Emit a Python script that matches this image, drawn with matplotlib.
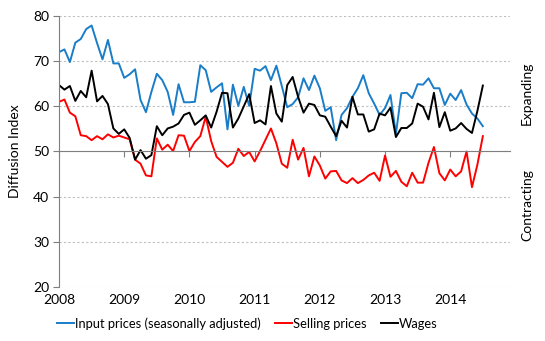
import numpy as np
import matplotlib.pyplot as plt

# Monthly diffusion indices, Jan 2008 - Jul 2014
input_prices = [
    72.0, 72.6, 69.8, 74.1, 74.9, 77.1, 77.9, 74.0, 70.4, 74.7, 69.5, 69.5,
    66.3, 67.1, 68.2, 61.4, 58.7, 63.2, 67.2, 65.8, 63.2, 58.1, 64.9, 60.9,
    60.9, 61.0, 69.1, 68.0, 63.2, 64.2, 65.1, 54.9, 64.8, 60.1, 64.3, 60.1,
    68.3, 67.9, 68.9, 65.8, 69.0, 64.5, 59.8, 60.5, 62.0, 66.2, 63.6, 66.8,
    64.0, 59.0, 59.8, 52.5, 58.1, 59.6, 62.1, 64.0, 66.9, 62.9, 60.6, 58.1,
    59.6, 62.5, 53.9, 62.9, 63.0, 61.8, 64.9, 64.8, 66.2, 64.0, 64.0, 60.3,
    62.8, 61.4, 63.6, 60.4, 58.4, 57.3, 55.6,
]
selling_prices = [
    61.0, 61.5, 58.6, 57.8, 53.6, 53.4, 52.5, 53.4, 52.7, 53.8, 53.1, 53.5,
    53.1, 52.7, 48.2, 47.3, 44.7, 44.5, 52.9, 50.4, 51.5, 50.1, 53.6, 53.5,
    50.1, 52.1, 53.4, 57.7, 52.3, 48.8, 47.7, 46.6, 47.5, 50.6, 49.0, 49.9,
    47.8, 50.1, 52.6, 55.1, 51.8, 47.3, 46.4, 52.6, 48.2, 50.8, 44.5, 48.9,
    46.9, 44.0, 45.6, 45.7, 43.6, 43.0, 44.1, 43.0, 43.7, 44.7, 45.3, 43.5,
    49.1, 44.4, 45.7, 43.3, 42.3, 45.3, 43.1, 43.1, 47.5, 51.0, 45.2, 43.6,
    46.0, 44.5, 45.6, 50.0, 42.1, 47.1, 53.4,
]
wages = [
    64.7, 63.7, 64.5, 61.2, 63.4, 62.0, 67.9, 61.1, 62.3, 60.5, 55.1, 53.9,
    54.9, 53.0, 48.2, 50.3, 48.4, 49.2, 55.6, 53.6, 55.1, 55.5, 56.2, 58.1,
    58.6, 55.9, 56.9, 58.0, 55.3, 58.8, 63.0, 62.9, 55.3, 57.3, 60.0, 62.7,
    56.3, 56.9, 56.0, 64.5, 58.4, 56.6, 64.7, 66.5, 62.1, 58.6, 60.6, 60.3,
    58.0, 57.7, 55.5, 53.4, 56.8, 55.3, 62.1, 58.2, 58.2, 54.4, 54.9, 58.4,
    58.0, 59.7, 53.2, 55.2, 55.2, 56.2, 60.6, 59.9, 57.1, 63.0, 55.4, 58.7,
    54.6, 55.1, 56.3, 55.0, 54.1, 59.0, 64.6,
]
years = ["2008", "2009", "2010", "2011", "2012", "2013", "2014"]

plt.rcParams["font.family"] = ["Lato", "DejaVu Sans"]
plt.rcParams["font.size"] = 10

fig = plt.figure(figsize=(5.45, 3.41), dpi=100)
ax = fig.add_axes([0.1083, 0.1584, 0.8275, 0.7947])

months = np.arange(len(input_prices))
ax.plot(months, input_prices, color="#1a7dc8", lw=1.4, label="Input prices (seasonally adjusted)")
ax.plot(months, selling_prices, color="#ff0000", lw=1.4, label="Selling prices")
ax.plot(months, wages, color="#000000", lw=1.4, label="Wages")

ax.set_xlim(0, 83)
ax.set_ylim(20, 80)
ax.set_yticks(range(20, 81, 10))
ax.yaxis.grid(True, linestyle=(0, (2, 2)), color="#bfbfbf", lw=0.8)
ax.set_axisbelow(True)

# horizontal axis sits on the 50 line; year labels stay at the bottom
for side in ("top", "right"):
    ax.spines[side].set_visible(False)
ax.spines["bottom"].set_position(("data", 50))
ax.spines["bottom"].set_color("#7f7f7f")
ax.spines["left"].set_color("#7f7f7f")
year_pos = np.arange(len(years)) * 12
ax.set_xticks(year_pos)
ax.tick_params(axis="x", direction="out", length=4, color="#7f7f7f", labelbottom=False)
ax.tick_params(axis="y", direction="out", length=4, color="#7f7f7f", pad=3)
for pos, yr in zip(year_pos, years):
    ax.text(pos, -0.025, yr, transform=ax.get_xaxis_transform(), ha="center", va="top")

ax.set_ylabel("Diffusion Index", labelpad=9)
fig.text(0.967, 0.725, "Expanding", rotation=90, ha="center", va="center")
fig.text(0.967, 0.40, "Contracting", rotation=90, ha="center", va="center")

fig.legend(loc="center left", bbox_to_anchor=(0.105, 0.052), ncol=3, frameon=False,
           fontsize=9.3, handlelength=1.3, handletextpad=0.1, columnspacing=1.1,
           borderaxespad=0, borderpad=0)

fig.savefig("out.png", dpi=100)
